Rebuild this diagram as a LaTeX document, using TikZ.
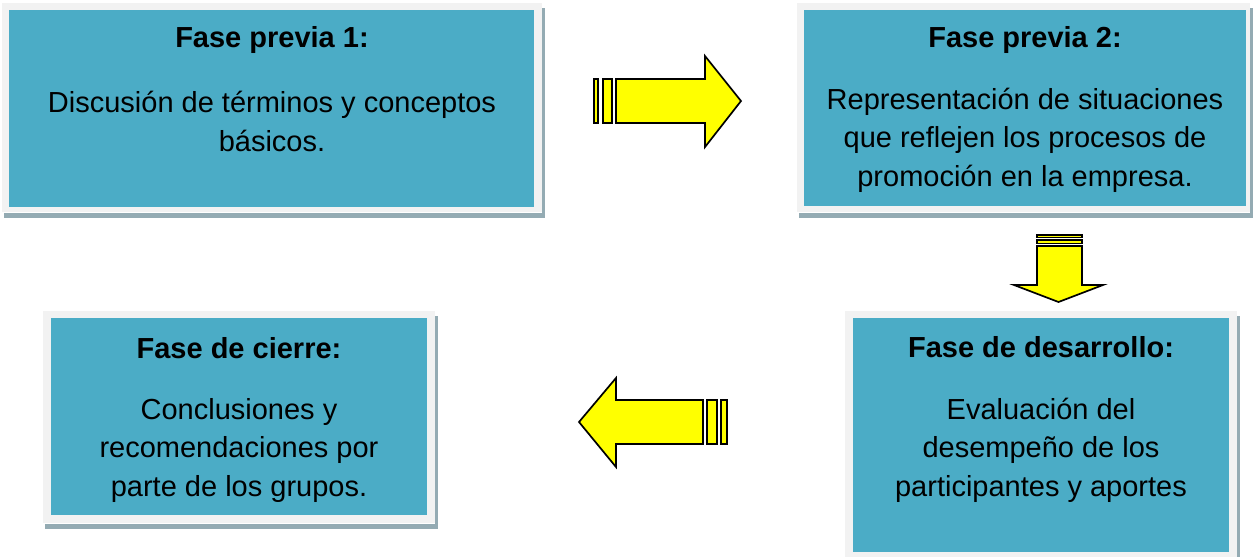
\documentclass[tikz,border=0pt]{standalone}
\usepackage{fontspec}
\setmainfont{Liberation Sans}
\definecolor{boxteal}{HTML}{4BACC6}
\definecolor{boxframe}{HTML}{F2F2F2}
\definecolor{boxshadow}{HTML}{94ABB3}
\definecolor{arrowfill}{HTML}{FFFF00}
\tikzset{
  frame/.style={fill=boxframe, draw=none},
  panel/.style={fill=boxteal, draw=none},
  shade/.style={fill=boxshadow, draw=none},
  blockarrow/.style={fill=arrowfill, draw=black, line width=1.7pt, line join=miter},
  head/.style={font=\bfseries\fontsize{29}{35}\selectfont, inner sep=0pt},
  body/.style={font=\fontsize{29}{38.5}\selectfont, align=center, inner sep=0pt}
}
% draws one framed panel: shadow, light frame, teal face
\newcommand{\phasebox}[8]{%
  % #1,#2 frame left/top  #3,#4 frame right/bottom  #5,#6 face left/top  #7,#8 face right/bottom
  \fill[shade] (#1+2,#4+1) rectangle (#3+3,#4+6);
  \fill[shade] (#3,#2+5) rectangle (#3+3,#4+6);
  \fill[frame] (#1,#2) rectangle (#3,#4);
  \fill[panel] (#5,#6) rectangle (#7,#8);
}
\begin{document}
\begin{tikzpicture}[x=1pt,y=-1pt]
\useasboundingbox (0,0) rectangle (1254,557);

% panels
\phasebox{2}{3}{542}{212}{9}{10}{534}{207}
\phasebox{797}{3}{1250}{212}{804}{10}{1246}{206}
\phasebox{845}{311}{1237}{557}{853}{318}{1229}{552}
\phasebox{43}{311}{435}{523}{51}{318}{427}{515}

% texts of the four phases
\node[head] (h1) at (272,40) {Fase previa 1:};
\node[body] (b1) at (272,121.5) {Discusión de términos y conceptos\\básicos.};
\node[head] (h2) at (1025,40) {Fase previa 2:};
\node[body] (b2) at (1025,140) {Representación de situaciones\\que reflejen los procesos de\\promoción en la empresa.};
\node[head] (h3) at (1041,347) {Fase de desarrollo:};
\node[body] (b3) at (1041,450) {Evaluación del\\desempeño de los\\participantes y aportes};
\node[head] (h4) at (239,348) {Fase de cierre:};
\node[body] (b4) at (239,450) {Conclusiones y\\recomendaciones por\\parte de los grupos.};

% striped block arrow to the right
\draw[blockarrow] (594,79) rectangle (598,123);
\draw[blockarrow] (603,79) rectangle (612,123);
\draw[blockarrow] (616,79) -- (705,79) -- (705,56) -- (741,101) -- (705,147)
  -- (705,123) -- (616,123) -- cycle;

% striped block arrow downwards
\draw[blockarrow] (1037,235) rectangle (1082,237.5);
\draw[blockarrow] (1037,240) rectangle (1082,243.5);
\draw[blockarrow] (1037,246) -- (1082,246) -- (1082,285) -- (1103,285)
  -- (1058.5,302) -- (1014,285) -- (1037,285) -- cycle;

% striped block arrow to the left
\draw[blockarrow] (721,400) rectangle (727,444);
\draw[blockarrow] (707,400) rectangle (717,444);
\draw[blockarrow] (703,400) -- (616,400) -- (616,378) -- (579,422) -- (616,467)
  -- (616,444) -- (703,444) -- cycle;
\end{tikzpicture}
\end{document}
